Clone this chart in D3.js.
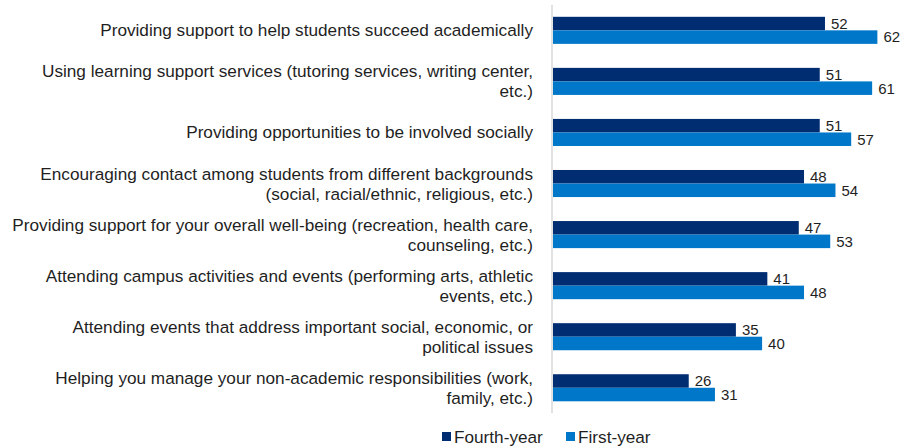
<!DOCTYPE html>
<html>
<head>
<meta charset="utf-8">
<script src="https://cdn.jsdelivr.net/npm/d3@7"></script>
<style>
  html, body { margin: 0; padding: 0; background: #fff; }
  svg { display: block; font-family: "Liberation Sans", Arial, sans-serif; }
</style>
</head>
<body>
<svg id="chart" width="902" height="448"></svg>
<script>
// Campus-support items, each label split into its display lines
const categories = [
  ["Providing support to help students succeed academically"],
  ["Using learning support services (tutoring services, writing center,", "etc.)"],
  ["Providing opportunities to be involved socially"],
  ["Encouraging contact among students from different backgrounds", "(social, racial/ethnic, religious, etc.)"],
  ["Providing support for your overall well-being (recreation, health care,", "counseling, etc.)"],
  ["Attending campus activities and events (performing arts, athletic", "events, etc.)"],
  ["Attending events that address important social, economic, or", "political issues"],
  ["Helping you manage your non-academic responsibilities (work,", "family, etc.)"]
];
const seriesNames = ["Fourth-year", "First-year"];
const fourthYear = [52, 51, 51, 48, 47, 41, 35, 26];
const firstYear  = [62, 61, 57, 54, 53, 48, 40, 31];
const seriesColors = ["#002D72", "#0077C8"];

const svg = d3.select("#chart");
const textColor = "#1f1f1f";
const labelSize = 17.2;
const valueSize = 15;

const rows = categories.map((lines, i) => ({
  key: i, lines, values: [fourthYear[i], firstYear[i]]
}));

const x = d3.scaleLinear().domain([0, 70]).range([552.5, 552.5 + 70 * 5.24]);
const y = d3.scaleBand().domain(rows.map(d => d.key)).range([4.8, 413.3])
  .paddingInner(0.47).paddingOuter(0.235);
const ySub = d3.scaleBand().domain([0, 1]).range([0, y.bandwidth()]);

// Category axis line
svg.append("line")
  .attr("x1", x(0) - 0.5).attr("x2", x(0) - 0.5)
  .attr("y1", y.range()[0]).attr("y2", y.range()[1])
  .attr("stroke", "#d9d9d9").attr("stroke-width", 1.5);

const g = svg.append("g").selectAll("g").data(rows).join("g")
  .attr("transform", d => `translate(0,${y(d.key)})`);

// Bars
g.selectAll("rect").data(d => d.values.map((v, s) => ({ v, s }))).join("rect")
  .attr("x", x(0) + 0.5)
  .attr("y", d => ySub(d.s))
  .attr("width", d => x(d.v) - x(0) - 0.5)
  .attr("height", ySub.bandwidth())
  .attr("fill", d => seriesColors[d.s]);

// Value labels
g.selectAll("text.val").data(d => d.values.map((v, s) => ({ v, s }))).join("text")
  .attr("class", "val")
  .attr("x", d => x(d.v) + 6)
  .attr("y", d => ySub(d.s) + ySub.bandwidth() / 2)
  .attr("dy", "0.36em")
  .attr("font-size", valueSize)
  .attr("fill", textColor)
  .text(d => d.v);

// Category labels (right-aligned, multi-line)
const lineH = 20;
g.append("text")
  .attr("text-anchor", "end")
  .attr("font-size", labelSize)
  .attr("fill", textColor)
  .each(function (d) {
    const t = d3.select(this);
    const n = d.lines.length;
    d.lines.forEach((ln, k) => {
      t.append("tspan")
        .attr("x", 533)
        .attr("y", y.bandwidth() / 2 + (k - (n - 1) / 2) * lineH)
        .attr("dy", "0.35em")
        .text(ln);
    });
  });

// Legend
const legend = svg.append("g").attr("transform", "translate(0,436.5)");
const legendX = [442, 566];
seriesNames.forEach((name, i) => {
  legend.append("rect")
    .attr("x", legendX[i]).attr("y", -4.5)
    .attr("width", 9).attr("height", 9)
    .attr("fill", seriesColors[i]);
  legend.append("text")
    .attr("x", legendX[i] + 12).attr("y", 0).attr("dy", "0.35em")
    .attr("font-size", labelSize).attr("fill", textColor)
    .text(name);
});
</script>
</body>
</html>
